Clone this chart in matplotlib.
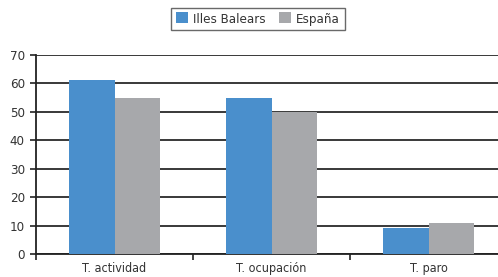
import numpy as np
import matplotlib.pyplot as plt

categories = ["T. actividad", "T. ocupación", "T. paro"]
series_names = ["Illes Balears", "España"]
baleares = [61.3, 55.0, 9.1]
espana = [55.0, 49.8, 10.8]
yticks = [0, 10, 20, 30, 40, 50, 60, 70]

plt.rcParams['font.family'] = ['DejaVu Sans']
plt.rcParams['font.stretch'] = 'condensed'

fig = plt.figure(figsize=(4.98, 2.77), dpi=100)
ax = fig.add_axes([36 / 498, 23 / 277, 471 / 498, 199 / 277])

x = np.arange(len(categories))
w = 0.29
ax.bar(x - w / 2, baleares, w, color='#4a8fcc', label=series_names[0], zorder=3)
ax.bar(x + w / 2, espana, w, color='#a7a8ab', label=series_names[1], zorder=3)

ax.set_xlim(-0.5, 2.5)
ax.set_ylim(0, 70)
ax.set_yticks(yticks)
ax.yaxis.grid(True, color='#2a2a2a', linewidth=1.3, zorder=0)
ax.set_axisbelow(True)

ax.set_xticks([-0.5, 0.5, 1.5, 2.5])
ax.set_xticklabels([])
ax.set_xticks(x, minor=True)
ax.set_xticklabels(categories, minor=True)
ax.tick_params(axis='x', which='minor', length=0, pad=6, labelsize=9, labelcolor='#333333')
ax.tick_params(axis='x', which='major', length=4, width=1.2, color='#222222')
ax.tick_params(axis='y', length=4, width=1.2, color='#222222', labelsize=9.5,
               labelcolor='#333333', pad=4)

for s in ['top', 'right']:
    ax.spines[s].set_visible(False)
ax.spines['left'].set_color('#222222')
ax.spines['left'].set_linewidth(1.3)
ax.spines['bottom'].set_color('#222222')
ax.spines['bottom'].set_linewidth(1.3)

leg = fig.legend(loc='center', bbox_to_anchor=(258 / 498, 1 - 19 / 277), ncol=2,
                 frameon=True, fancybox=False, fontsize=9.5, handlelength=0.9,
                 handleheight=0.9, handletextpad=0.4, columnspacing=1.0,
                 borderpad=0.35, borderaxespad=0)
leg.get_frame().set_edgecolor('#444444')
leg.get_frame().set_linewidth(1.0)
for t in leg.get_texts():
    t.set_color('#333333')

fig.savefig('out.png', dpi=100)
